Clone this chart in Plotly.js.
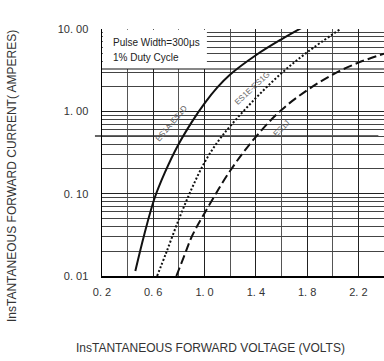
<!DOCTYPE html>
<html><head><meta charset="utf-8">
<script src="https://cdn.plot.ly/plotly-3.0.1.min.js"></script>
<style>html,body{margin:0;padding:0;background:#fff}#c{width:384px;height:361px}</style>
</head><body><div id="c"></div>
<script>
// ES1A-ES1D (solid)
const vA = [0.46, 0.53, 0.61, 0.69, 0.79, 0.9, 1.0, 1.1, 1.2, 1.4, 1.6, 1.78];
const iA = [0.0115, 0.032, 0.088, 0.18, 0.38, 0.74, 1.25, 1.95, 2.8, 4.8, 7.5, 10.8];
// ES1E-ES1G (dotted)
const vE = [0.63, 0.7, 0.8, 0.9, 1.0, 1.1, 1.2, 1.4, 1.6, 1.8, 2.06];
const iE = [0.01, 0.019, 0.049, 0.115, 0.24, 0.42, 0.66, 1.45, 2.9, 5.2, 10];
// ES1J (dashed)
const vJ = [0.78, 0.85, 0.9, 1.0, 1.2, 1.4, 1.6, 1.8, 2.0, 2.2, 2.4];
const iJ = [0.01, 0.019, 0.03, 0.058, 0.19, 0.49, 1.04, 1.8, 2.8, 3.9, 5.0];

const xTickVals = [0.2, 0.6, 1.0, 1.4, 1.8, 2.2];
const xTickText = ["0. 2", "0. 6", "1. 0", "1. 4", "1. 8", "2. 2"];
const xMinorVals = [0.4, 0.8, 1.2, 1.6, 2.0, 2.4];
const yTickVals = [0.01, 0.1, 1, 10];
const yTickText = ["0. 01", "0. 10", "1. 00", "10. 00"];
const yMinorVals = [];
[0.01, 0.1, 1].forEach(d => { for (let k = 2; k <= 9; k++) yMinorVals.push(d * k); });

const lbl = {family: "Liberation Sans, Arial, sans-serif", size: 11, color: "#333"};

const traces = [
  {x: vA, y: iA, mode: "lines", line: {color: "#111", width: 2, shape: "spline"}, name: "ES1A-ES1D"},
  {x: vE, y: iE, mode: "lines", line: {color: "#111", width: 2, dash: "2px,2px", shape: "spline"}, name: "ES1E-ES1G"},
  {x: vJ, y: iJ, mode: "lines", line: {color: "#111", width: 2, dash: "9px,4px", shape: "spline"}, name: "ES1J"}
];

const layout = {
  width: 384, height: 361,
  margin: {l: 102, r: 0, t: 29, b: 85},
  paper_bgcolor: "#fff", plot_bgcolor: "#fff",
  showlegend: false,
  xaxis: {
    range: [0.2, 2.4], tickvals: xTickVals, ticktext: xTickText, tickfont: lbl,
    showgrid: true, gridcolor: "#222", gridwidth: 1,
    minor: {tickvals: xMinorVals, showgrid: true, gridcolor: "#555", gridwidth: 1, ticks: ""},
    showline: true, linecolor: "#000", linewidth: 1.5, ticks: "", ticklabelstandoff: 5, zeroline: false
  },
  yaxis: {
    type: "log", range: [-2, 1], tickvals: yTickVals, ticktext: yTickText, tickfont: lbl,
    showgrid: true, gridcolor: "#222", gridwidth: 1,
    minor: {tickvals: yMinorVals, showgrid: true, gridcolor: "#444", gridwidth: 1, ticks: ""},
    showline: true, linecolor: "#000", linewidth: 1.5, ticks: "", ticklabelstandoff: 10, zeroline: false
  },
  shapes: [
    {type: "rect", xref: "paper", yref: "paper", x0: 0.003, x1: 0.372, y0: 0.838, y1: 0.997,
     fillcolor: "#fff", line: {width: 0}, layer: "above"},
    {type: "line", xref: "paper", yref: "paper", x0: 0, x1: 1, y0: 0.838, y1: 0.838,
     line: {color: "#111", width: 1.2}, layer: "above"},
    {type: "line", xref: "paper", yref: "paper", x0: -0.025, x1: 0.98, y0: 0.567, y1: 0.567,
     line: {color: "#333", width: 1.5}, layer: "below"}
  ],
  annotations: [
    {xref: "paper", yref: "paper", x: 0.032, y: 0.947, xanchor: "left", yanchor: "middle", showarrow: false,
     text: "Pulse Width=300μs", font: {family: "Liberation Sans, Arial, sans-serif", size: 10, color: "#222"}},
    {xref: "paper", yref: "paper", x: 0.032, y: 0.885, xanchor: "left", yanchor: "middle", showarrow: false,
     text: "1% Duty Cycle", font: {family: "Liberation Sans, Arial, sans-serif", size: 10, color: "#222"}},
    {x: 0.74, y: Math.log10(0.72), xref: "x", yref: "y", showarrow: false, text: "ES1A-ES1D", textangle: -50,
     font: {family: "Liberation Sans, Arial, sans-serif", size: 8, color: "#666"}},
    {x: 1.37, y: Math.log10(1.9), xref: "x", yref: "y", showarrow: false, text: "ES1E-ES1G", textangle: -43,
     font: {family: "Liberation Sans, Arial, sans-serif", size: 8, color: "#666"}},
    {x: 1.6, y: Math.log10(0.62), xref: "x", yref: "y", showarrow: false, text: "ES1J", textangle: -45,
     font: {family: "Liberation Sans, Arial, sans-serif", size: 8, color: "#666"}},
    {xref: "paper", yref: "paper", x: (210 - 102) / 282, y: (276 - 348) / 247, xanchor: "center", yanchor: "middle",
     showarrow: false, text: "InsTANTANEOUS FORWARD VOLTAGE (VOLTS)",
     font: {family: "Liberation Sans, Arial, sans-serif", size: 12, color: "#333"}},
    {xref: "paper", yref: "paper", x: (12 - 102) / 282, y: (276 - 176) / 247, xanchor: "center", yanchor: "middle",
     showarrow: false, textangle: -90, text: "InsTANTANEOUS FORWARD CURRENT( AMPERES)",
     font: {family: "Liberation Sans, Arial, sans-serif", size: 12, color: "#333"}}
  ]
};

Plotly.newPlot("c", traces, layout, {displayModeBar: false, staticPlot: true});
</script></body></html>
